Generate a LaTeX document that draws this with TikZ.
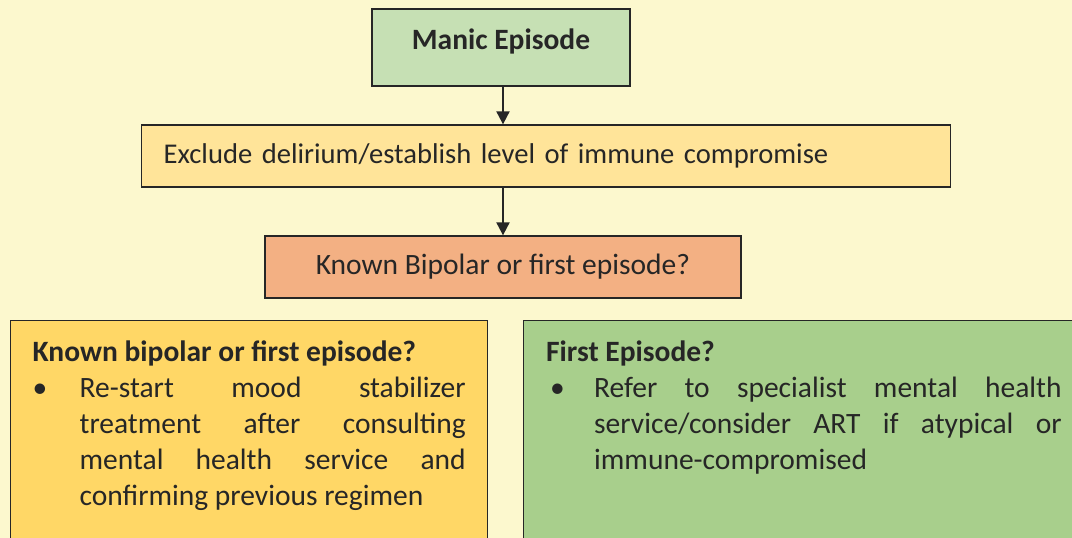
\documentclass[tikz,border=0pt]{standalone}
\usepackage{fontspec}
\setmainfont{Carlito}
\usepackage{tikz}
\usetikzlibrary{arrows.meta,positioning}
\definecolor{pagebg}{RGB}{252,248,206}
\definecolor{inkgray}{RGB}{38,38,38}
\definecolor{manicfill}{RGB}{198,224,180}
\definecolor{excludefill}{RGB}{255,228,153}
\definecolor{knownfill}{RGB}{243,176,131}
\definecolor{bipolarfill}{RGB}{255,215,102}
\definecolor{firstfill}{RGB}{168,207,140}
\newcommand{\flowfont}{\fontsize{29.5}{36}\selectfont}
\tikzset{%
    box/.style={%
        draw=inkgray, line width=1.3pt, inner sep=0pt, text=inkgray, font=\flowfont
    },
    flow/.style={%
        draw=inkgray, line width=2pt, -{Triangle[length=13pt,width=13pt]}
    }
}

\begin{document}
\begin{tikzpicture}[x=1pt,y=-1pt]
    \fill[pagebg] (0,0) rectangle (1072,538);
    \useasboundingbox (0,0) rectangle (1072,538);
    \clip (0,0) rectangle (1072,538);

    \node[box, fill=manicfill, font=\flowfont\bfseries, minimum width=258pt,
        text height=40.5pt, text depth=36.5pt] (manic) at (501,47.5) {Manic Episode};
    \node[box, fill=excludefill, anchor=west, inner xsep=22pt, text width=765pt,
        align=left, minimum height=62pt, font=\fontsize{28.6}{34}\selectfont]
        (exclude) at (141,156)
        {Exclude delirium/establish level of immune compromise};
    \node[box, fill=knownfill, minimum width=476pt, minimum height=62pt] (known)
        at (503,267) {Known Bipolar or first episode?};

    \node[box, fill=bipolarfill, anchor=north west, inner xsep=22pt, inner ysep=20pt]
        (bipolar) at (10,320) {\parbox[t][200pt][t]{433pt}{%
        \textbf{Known bipolar or first episode?}\par
        \hangindent=47pt\hangafter=1\noindent\makebox[47pt][l]{\textbullet}%
        Re-start mood stabilizer\linebreak treatment after consulting\linebreak
        mental health service and\linebreak confirming previous regimen}};
    \node[box, fill=firstfill, anchor=north west, inner xsep=22.5pt, inner ysep=20pt]
        (first) at (523,320) {\parbox[t][200pt][t]{515.5pt}{%
        \textbf{First Episode?}\par
        \hangindent=48pt\hangafter=1\noindent\makebox[48pt][l]{\hspace{4pt}\textbullet}%
        Refer to specialist mental health\linebreak service/consider ART if atypical or\linebreak
        immune-compromised}};

    \draw[flow] (known.north |- manic.south) -- (known.north |- exclude.north);
    \draw[flow] (known.north |- exclude.south) -- (known.north);
\end{tikzpicture}
\end{document}
